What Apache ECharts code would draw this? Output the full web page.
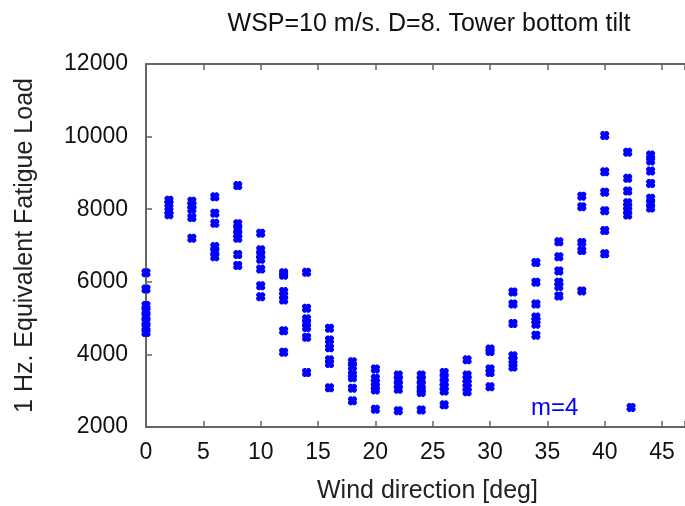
<!DOCTYPE html>
<html>
<head>
<meta charset="utf-8">
<script src="https://cdn.jsdelivr.net/npm/echarts@6/dist/echarts.min.js"></script>
<style>html,body{margin:0;padding:0;background:#fff}#c{width:685px;height:506px}</style>
</head>
<body>
<div id="c"></div>
<script>
const title = "WSP=10 m/s. D=8. Tower bottom tilt";
const xName = "Wind direction [deg]";
const yName = "1 Hz. Equivalent Fatigue Load";
const xTicks = [0, 5, 10, 15, 20, 25, 30, 35, 40, 45];
const yTicks = [2000, 4000, 6000, 8000, 10000, 12000];
const directions = [0, 2, 4, 6, 8, 10, 12, 14, 16, 18, 20, 22, 24, 26, 28, 30, 32, 34, 36, 38, 40, 42, 44];
const loads = [
  [6250, 5800, 5350, 5200, 5050, 4900, 4750, 4600],
  [8250, 8150, 7950, 7850],
  [8220, 8100, 8000, 7770, 7200],
  [8340, 7890, 7610, 6970, 6830, 6690],
  [8650, 7600, 7450, 7300, 7200, 6750, 6450],
  [7340, 6880, 6740, 6620, 6350, 5890, 5590],
  [6250, 6180, 5730, 5620, 5500, 4650, 4060],
  [6260, 5270, 4980, 4860, 4740, 4470, 3500],
  [4720, 4400, 4180, 3850, 3750, 3080],
  [3800, 3660, 3450, 3360, 3070, 2720],
  [3600, 3340, 3220, 3110, 3020, 2490],
  [3430, 3300, 3160, 3040, 2450],
  [3430, 3300, 3160, 3020, 2950, 2470],
  [3500, 3360, 3220, 3110, 2990, 2610],
  [3850, 3430, 3310, 3200, 3090, 2970],
  [4150, 4080, 3600, 3500, 3110],
  [5720, 5390, 4850, 3960, 3840, 3650],
  [6530, 5990, 5390, 5030, 4930, 4830, 4530],
  [7100, 6690, 6300, 5990, 5870, 5610],
  [8360, 8070, 7080, 6860, 5750],
  [10030, 9030, 8470, 7960, 7410, 6770],
  [9570, 8850, 8500, 8180, 8070, 7960, 7840],
  [9490, 9330, 9050, 8710, 8300, 8160, 8030]
];
const extraX = [42.3];
const extraY = [2540];
const annotation = "m=4";

const points = [];
directions.forEach((d, i) => loads[i].forEach(v => points.push([d, v])));
extraX.forEach((x, i) => points.push([x, extraY[i]]));

const marker = 'path://M2,0 L4,0 L5,1 L6,0 L8,0 L10,2 L10,4 L9,5 L10,6 L10,8 L8,10 L6,10 L5,9 L4,10 L2,10 L0,8 L0,6 L1,5 L0,4 L0,2 Z';

const font = '"Liberation Sans", Arial, sans-serif';
const axisCol = '#333';
const chart = echarts.init(document.getElementById('c'));
chart.setOption({
  animation: false,
  title: {
    text: title, left: 424, top: 7, textAlign: 'center',
    textStyle: { fontFamily: font, fontSize: 25, fontWeight: 'normal', color: '#111' }
  },
  grid: { left: 146, right: 0, top: 64, bottom: 79, outerBoundsMode: 'none', containLabel: false },
  xAxis: [{
    type: 'value', min: 0, max: 47, interval: 5,
    name: xName, nameLocation: 'middle', nameGap: 52,
    nameTextStyle: { fontFamily: font, fontSize: 25, color: '#222', padding: [0, 0, 0, 24] },
    axisLine: { show: true, lineStyle: { color: axisCol, width: 1.5 } },
    axisTick: { show: true, inside: true, length: 6, lineStyle: { color: '#666', width: 1.5 } },
    axisLabel: { fontFamily: font, fontSize: 23, color: '#111', margin: 14,
      formatter: v => xTicks.includes(v) ? String(v) : '' },
    splitLine: { show: false }
  }, {
    type: 'value', position: 'top', min: 0, max: 47, interval: 5,
    axisLine: { show: true, lineStyle: { color: axisCol, width: 1.5 } },
    axisTick: { show: true, inside: true, length: 6, lineStyle: { color: '#666', width: 1.5 } },
    axisLabel: { show: false }, splitLine: { show: false }
  }],
  yAxis: {
    type: 'value', min: 2000, max: 12000, interval: 2000,
    name: yName, nameLocation: 'middle', nameGap: 108, nameRotate: 90,
    nameTextStyle: { fontFamily: font, fontSize: 25, color: '#222' },
    axisLine: { show: true, lineStyle: { color: axisCol, width: 1.5 } },
    axisTick: { show: true, inside: true, length: 6, lineStyle: { color: '#666', width: 1.5 } },
    axisLabel: { fontFamily: font, fontSize: 23, color: '#111', margin: 18,
      formatter: v => yTicks.includes(v) ? String(v) : '' },
    splitLine: { show: false }
  },
  graphic: [{
    type: 'text', left: 531, top: 396,
    style: { text: annotation, fill: '#0000ff', font: '24px ' + font }
  }],
  series: [{
    type: 'scatter', data: points, symbol: marker, symbolSize: 9,
    itemStyle: { color: '#0000ff', opacity: 1 }, clip: false
  }]
});
</script>
</body>
</html>
